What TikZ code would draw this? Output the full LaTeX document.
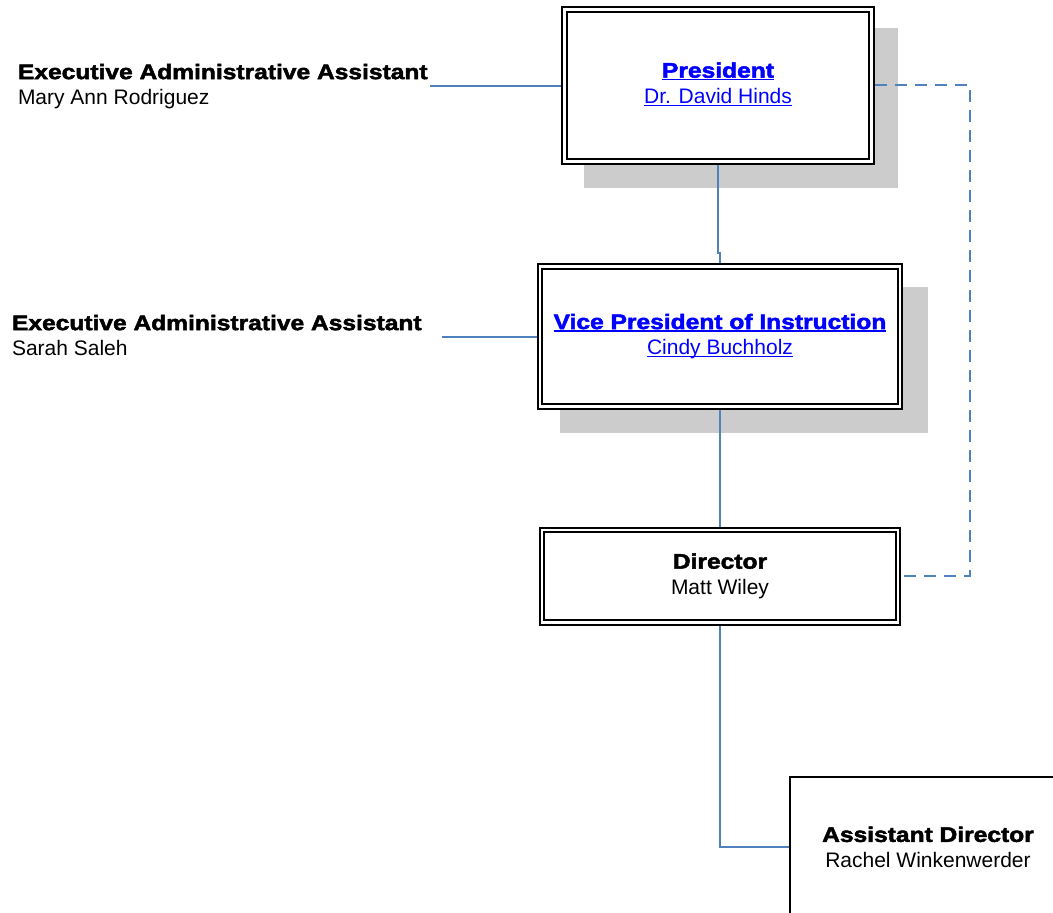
\documentclass[tikz,border=0pt]{standalone}
\usepackage{fontspec}
\setmainfont{Liberation Sans}
\newfontfamily\heavyfont{Liberation Sans}[BoldFeatures={FakeStretch=1.17,FakeBold=2.4}]
\usetikzlibrary{backgrounds}
\definecolor{connblue}{RGB}{79,129,189}
\definecolor{linkblue}{RGB}{0,0,255}
\definecolor{shadowgray}{RGB}{204,204,204}
\newcommand{\hd}[1]{{\heavyfont\bfseries #1}}
\newcommand{\tstrut}{\rule{0pt}{15bp}}
\newcommand{\bstrut}{\rule[-5bp]{0pt}{5bp}}
\newcommand{\lnk}[1]{\setbox0\hbox{#1}\rlap{\rule[-2.6bp]{\wd0}{1.2bp}}\box0}
\begin{document}
\begin{tikzpicture}[x=1bp,y=-1bp,
  every node/.style={font=\fontsize{21bp}{25.5bp}\selectfont, inner sep=0pt, outer sep=0pt},
  orgbox/.style={draw=black, line width=2bp, double=white, double distance=2.7bp, fill=white, align=center},
  linkbox/.style={orgbox, text=linkblue},
  plainbox/.style={draw=black, line width=2bp, fill=white, align=center},
  shadowbox/.style={fill=shadowgray, draw=none},
  conn/.style={draw=connblue, line width=1.8bp},
  dashconn/.style={conn, dash pattern=on 12bp off 8bp},
  sidetext/.style={anchor=west, align=left}]
\useasboundingbox (0,0) rectangle (1053,913);
\clip (0,0) rectangle (1053,913);

% boxes
\node[linkbox, minimum width=307bp, minimum height=152bp] (pres) at (718,85.3)
  {\tstrut\lnk{\hd{President}}\\\lnk{Dr. David Hinds}\bstrut};
\node[linkbox, minimum width=360bp, minimum height=140bp] (vp) at (720,336.7)
  {\tstrut\lnk{\hd{Vice President of Instruction}}\\\lnk{Cindy Buchholz}\bstrut};
\node[orgbox, minimum width=356bp, minimum height=92.7bp] (dir) at (720,576.3)
  {\tstrut\hd{Director}\\Matt Wiley\bstrut};
\node[plainbox, minimum width=276bp, minimum height=145bp] (asst) at (928,849.5)
  {\tstrut\hd{Assistant Director}\\Rachel Winkenwerder\bstrut};

% side texts
\node[sidetext] (exec1) at (18,86.75)
  {\tstrut\hd{Executive Administrative Assistant}\\Mary Ann Rodriguez\bstrut};
\node[sidetext] (exec2) at (12,337.75)
  {\tstrut\hd{Executive Administrative Assistant}\\Sarah Saleh\bstrut};

\coordinate (ea1) at (430,86);
\coordinate (ea2) at (442,336.7);
\coordinate (dashx) at (970,0);

\begin{pgfonlayer}{background}
  \fill[shadowbox] (584,28) rectangle (898,188);
  \fill[shadowbox] (560,287) rectangle (928,433);
  \draw[conn] (ea1) -- (ea1 -| pres.west);
  \draw[conn] (pres.south) -- ++(0,92) -| (vp.north);
  \draw[conn] (ea2) -- (vp.west);
  \draw[conn] (vp.south) -- (dir.north);
  \draw[dashconn] ([xshift=3.4bp]pres.east) -- (pres.east -| dashx) |- (dir.east);
  \draw[conn] (dir.south) |- ([yshift=2.5bp]asst.west);
\end{pgfonlayer}
\end{tikzpicture}
\end{document}
